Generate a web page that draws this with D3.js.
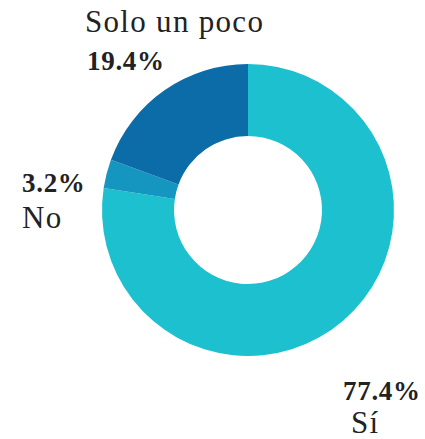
<!DOCTYPE html>
<html>
<head>
<meta charset="utf-8">
<script src="https://cdn.jsdelivr.net/npm/d3@7"></script>
</head>
<body style="margin:0; background:#fff">
<svg id="chart" width="425" height="439"></svg>
<script>
// Survey answers, drawn clockwise from 12 o'clock
const categories = ["Sí", "No", "Solo un poco"];
const values = [77.4, 3.2, 19.4];
const valueLabels = ["77.4%", "3.2%", "19.4%"];
const colors = ["#1cc0cf", "#1596c0", "#0b6ca8"];

const data = categories.map((c, i) => ({ name: c, value: values[i], label: valueLabels[i], color: colors[i] }));

const svg = d3.select("#chart");
const cx = 248, cy = 210, outerR = 146, innerR = 74;

const pie = d3.pie().value(d => d.value).sort(null);
const arc = d3.arc().innerRadius(innerR).outerRadius(outerR);

const g = svg.append("g").attr("transform", `translate(${cx},${cy})`);
g.selectAll("path")
  .data(pie(data))
  .join("path")
  .attr("d", arc)
  .attr("fill", d => d.data.color);

// Labels: value (bold) and category name, placed around the ring
const labelSpots = {
  "Solo un poco": { name: [85, 32], value: [87, 70] },
  "No": { value: [22, 192], name: [22, 228] },
  "Sí": { value: [343, 400], name: [351, 433] }
};

data.forEach(d => {
  const s = labelSpots[d.name];
  svg.append("text")
    .attr("x", s.name[0]).attr("y", s.name[1])
    .style("font-family", '"Liberation Serif"')
    .attr("font-size", 31)
    .style("letter-spacing", "1.3px")
    .attr("fill", "#222")
    .text(d.name);
  svg.append("text")
    .attr("x", s.value[0]).attr("y", s.value[1])
    .style("font-family", '"Liberation Serif"')
    .attr("font-size", 27)
    .style("font-weight", "bold")
    .style("letter-spacing", "0.7px")
    .attr("fill", "#222")
    .text(d.label);
});
</script>
</body>
</html>
